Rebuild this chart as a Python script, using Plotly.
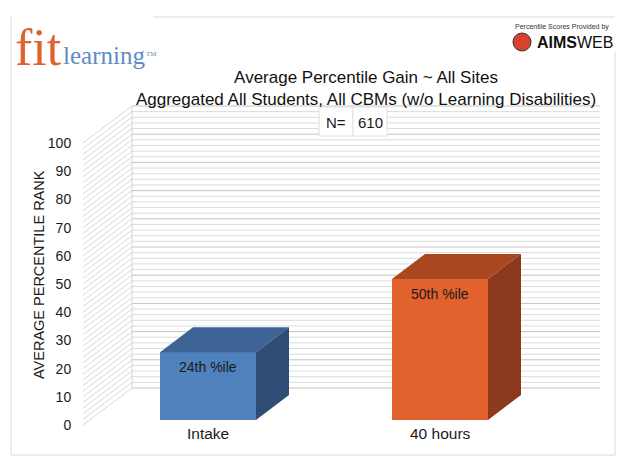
import plotly.graph_objects as go

# data
categories = ["Intake", "40 hours"]
values = [24, 50]
bar_labels = ["24th %ile", "50th %ile"]
n_students = 610
y_ticks = list(range(0, 101, 10))

front_colors = ["#4F81BD", "#E2622E"]
top_colors = ["#3D6494", "#A9481F"]
side_colors = ["#2F4D74", "#8B3A1E"]

# page body has an 8px margin, so the figure is drawn 8px smaller
OFF = 8
W, H = 624 - OFF, 464 - OFF

# plot area in window pixels
PL, PR, PT, PB = 83, 600, 100, 425
k = 2.82            # px per percentile unit
ux = 232.0          # px per category
x0 = -(208 - PL) / ux
x1 = x0 + (PR - PL) / ux
ytop = (PB - PT) / k

# oblique depth of the walls and of the bars
wall_dx = 49 / ux
wall_dy = 37 / k
bar_base = 5 / k
bar_w = 96 / ux
bar_dx = 33 / ux
bar_dy = 25 / k


def pxx(p):
    return (p - PL) / (PR - PL)


def pxy(p):
    return (PB - p) / (PB - PT)


fig = go.Figure()

# grid: side wall diagonals + back wall lines, every 2 units
shapes = []
xb = x0 + wall_dx
for v in range(0, 101, 2):
    col = "#C4C4C4" if v % 10 == 0 else "#DCDCDC"
    shapes.append(dict(type="line", layer="below", x0=x0, y0=v, x1=xb, y1=v + wall_dy,
                       line=dict(color="#D8D8D8", width=1)))
    shapes.append(dict(type="line", layer="below", x0=xb, y0=v + wall_dy, x1=x1, y1=v + wall_dy,
                       line=dict(color=col, width=1)))
shapes.append(dict(type="line", layer="below", x0=xb, y0=wall_dy, x1=xb, y1=100 + wall_dy,
                   line=dict(color="#D4D4D4", width=1)))

# outer frame of the slide picture
frame = "#DADADA"
shapes += [
    dict(type="line", xref="paper", yref="paper", x0=pxx(11), y0=pxy(17), x1=pxx(11), y1=pxy(455),
         line=dict(color=frame, width=1)),
    dict(type="line", xref="paper", yref="paper", x0=pxx(153), y0=pxy(17), x1=pxx(615), y1=pxy(17),
         line=dict(color=frame, width=1)),
    dict(type="line", xref="paper", yref="paper", x0=pxx(615), y0=pxy(52), x1=pxx(615), y1=pxy(455),
         line=dict(color=frame, width=1)),
    dict(type="line", xref="paper", yref="paper", x0=pxx(11), y0=pxy(455), x1=pxx(615), y1=pxy(455),
         line=dict(color=frame, width=1)),
]

# N= box
shapes += [
    dict(type="rect", xref="paper", yref="paper", x0=pxx(319), y0=pxy(107), x1=pxx(353), y1=pxy(136),
         fillcolor="white", line=dict(color="#E0E0E0", width=1)),
    dict(type="rect", xref="paper", yref="paper", x0=pxx(353), y0=pxy(107), x1=pxx(387), y1=pxy(136),
         fillcolor="white", line=dict(color="#E0E0E0", width=1)),
]

# AIMSWEB badge circle
shapes.append(dict(type="circle", xref="paper", yref="paper",
                   x0=pxx(513), y0=pxy(33), x1=pxx(531), y1=pxy(51),
                   fillcolor="#D8412F", line=dict(color="#333333", width=1)))

# front faces
xs = list(range(len(categories)))
fig.add_trace(go.Bar(
    x=xs, y=values, base=bar_base, width=bar_w,
    marker=dict(color=front_colors, line=dict(width=0)),
    hoverinfo="skip", showlegend=False,
))

# top and side faces
for i, v in enumerate(values):
    xl, xr = i - bar_w / 2, i + bar_w / 2
    top = bar_base + v
    fig.add_trace(go.Scatter(
        x=[xl, xr, xr + bar_dx, xl + bar_dx, xl],
        y=[top, top, top + bar_dy, top + bar_dy, top],
        fill="toself", fillcolor=top_colors[i], mode="lines",
        line=dict(width=0, color=top_colors[i]), hoverinfo="skip", showlegend=False,
    ))
    fig.add_trace(go.Scatter(
        x=[xr, xr + bar_dx, xr + bar_dx, xr, xr],
        y=[bar_base, bar_base + bar_dy, top + bar_dy, top, bar_base],
        fill="toself", fillcolor=side_colors[i], mode="lines",
        line=dict(width=0, color=side_colors[i]), hoverinfo="skip", showlegend=False,
    ))

annotations = []
for i, v in enumerate(values):
    annotations.append(dict(x=i, y=bar_base + v, text=bar_labels[i], showarrow=False,
                            yanchor="top", yshift=-5, font=dict(size=14, color="#1a1a1a")))
    annotations.append(dict(x=i, y=0, text=categories[i], showarrow=False,
                            yanchor="middle", yshift=-8, font=dict(size=15.5, color="#1a1a1a")))


def note(px, py, text, size, color="#1a1a1a", family=None, xanchor="center", yanchor="middle", **kw):
    font = dict(size=size, color=color)
    if family:
        font["family"] = family
    return dict(xref="paper", yref="paper", x=pxx(px), y=pxy(py), text=text, showarrow=False,
                xanchor=xanchor, yanchor=yanchor, font=font, **kw)


annotations += [
    note(39, 275, "AVERAGE PERCENTILE RANK", 14.5, textangle=-90),
    note(336, 122, "N=", 15),
    note(370, 122, str(n_students), 15),
    # fit learning logo
    note(13, 78, "fit", 52, color="#E0622F", family="Liberation Serif", xanchor="left", yanchor="bottom"),
    note(61, 71, "learning", 25, color="#5F8CC4", family="Liberation Serif", xanchor="left", yanchor="bottom"),
    note(144, 60, "TM", 7, color="#5F8CC4", family="Liberation Serif", xanchor="left", yanchor="bottom"),
    # AIMSWEB badge
    note(562, 27, "Percentile Scores Provided by", 7, color="#333333"),
    note(535, 42, "<b>AIMS</b>WEB", 16, color="#111111", xanchor="left"),
]

fig.update_layout(
    width=W, height=H,
    margin=dict(l=PL - OFF, r=W - (PR - OFF), t=PT - OFF, b=H - (PB - OFF), pad=0),
    paper_bgcolor="white", plot_bgcolor="white",
    font=dict(family="Liberation Sans, Arial, sans-serif", color="#1a1a1a"),
    title=dict(text="Average Percentile Gain ~ All Sites<br>Aggregated All Students, All CBMs (w/o Learning Disabilities)",
               xref="container", yref="container", x=(366 - OFF) / W, y=1 - (83 - OFF) / H,
               xanchor="center", yanchor="middle", font=dict(size=17, color="#111111")),
    xaxis=dict(range=[x0, x1], showgrid=False, zeroline=False, showticklabels=False,
               showline=False, fixedrange=True),
    yaxis=dict(range=[0, ytop], tickvals=y_ticks, showgrid=False, zeroline=False,
               showline=False, ticks="outside", ticklen=8, tickcolor="rgba(0,0,0,0)",
               tickfont=dict(size=14, color="#1a1a1a"), fixedrange=True),
    shapes=shapes,
    annotations=annotations,
    bargap=0,
)

fig.write_html("out.html")
